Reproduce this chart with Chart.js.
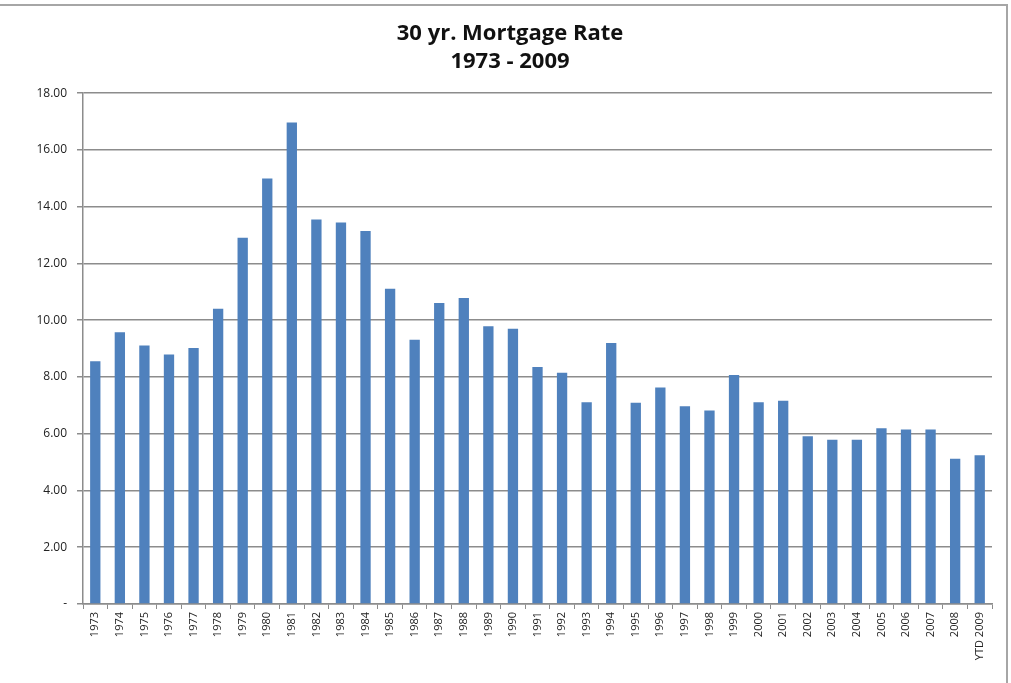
<!DOCTYPE html>
<html lang="en">
<head>
  <meta charset="UTF-8" />
  <title>30 yr. Mortgage Rate</title>
  <script src="https://cdn.jsdelivr.net/npm/chart.js"></script>
  <style>
    body {
      margin: 0;
      background: #fff;
      overflow: hidden;
    }
    .wrap {
      position: relative;
      width: 1011px;
      height: 683px;
    }
    .frame {
      position: absolute;
      left: -3px;
      top: 4px;
      width: 1007px;
      height: 700px;
      border: 2px solid #a6a6a6;
      pointer-events: none;
    }
    canvas {
      position: absolute;
      left: 0;
      top: 0;
    }
  </style>
</head>
<body>
  <div class="wrap">
    <canvas id="rateChart" width="1011" height="683"></canvas>
    <div class="frame"></div>
  </div>

  <script>
    // data
    const years = ['1973', '1974', '1975', '1976', '1977', '1978', '1979', '1980', '1981', '1982',
      '1983', '1984', '1985', '1986', '1987', '1988', '1989', '1990', '1991', '1992',
      '1993', '1994', '1995', '1996', '1997', '1998', '1999', '2000', '2001', '2002',
      '2003', '2004', '2005', '2006', '2007', '2008', 'YTD 2009'];
    const rates = [8.55, 9.58, 9.11, 8.79, 9.02, 10.40, 12.91, 14.99, 16.97, 13.55,
      13.44, 13.14, 11.11, 9.31, 10.61, 10.78, 9.79, 9.70, 8.35, 8.15,
      7.11, 9.20, 7.09, 7.63, 6.97, 6.82, 8.07, 7.11, 7.16, 5.91,
      5.79, 5.79, 6.19, 6.15, 6.15, 5.12, 5.24];
    const yTicks = [0, 2, 4, 6, 8, 10, 12, 14, 16, 18];

    const gridGray = '#8c8c8c';
    const labelFont = { family: 'Open Sans', size: 11 };

    new Chart(document.getElementById('rateChart').getContext('2d'), {
      type: 'bar',
      data: {
        labels: years,
        datasets: [{
          label: 'Rate',
          data: rates,
          backgroundColor: '#4f81bd',
          categoryPercentage: 1,
          barPercentage: 0.42
        }]
      },
      options: {
        responsive: false,
        animation: false,
        // left padding + narrower y axis keeps the plot at x=83 but centres the title like the original
        layout: { padding: { left: 28, right: 19, top: 0, bottom: 0 } },
        plugins: {
          legend: { display: false },
          tooltip: { enabled: false },
          title: {
            display: true,
            text: ['30 yr. Mortgage Rate', '1973 - 2009'],
            color: '#111',
            font: { family: 'Open Sans', size: 22, weight: 'bold', lineHeight: 1.3 },
            padding: { top: 19, bottom: 17 }
          }
        },
        scales: {
          x: {
            grid: {
              display: true,
              offset: true,
              drawOnChartArea: false,
              tickLength: 5,
              color: gridGray
            },
            border: { color: gridGray, width: 1.5 },
            ticks: {
              color: '#222',
              font: labelFont,
              minRotation: 90,
              maxRotation: 90,
              autoSkip: false,
              padding: 3
            },
            afterFit: (scale) => { scale.height = 79; }
          },
          y: {
            min: 0,
            max: 18,
            afterBuildTicks: (scale) => {
              scale.ticks = yTicks.map(v => ({ value: v }));
            },
            grid: {
              color: gridGray,
              lineWidth: 1.5,
              tickLength: 6
            },
            border: { color: gridGray, width: 1.5 },
            ticks: {
              color: '#222',
              font: { family: 'Open Sans', size: 12 },
              padding: 10,
              callback: (v) => v === 0 ? '-' : v.toFixed(2)
            },
            afterFit: (scale) => { scale.width = 55; }
          }
        }
      }
    });
  </script>
</body>
</html>
